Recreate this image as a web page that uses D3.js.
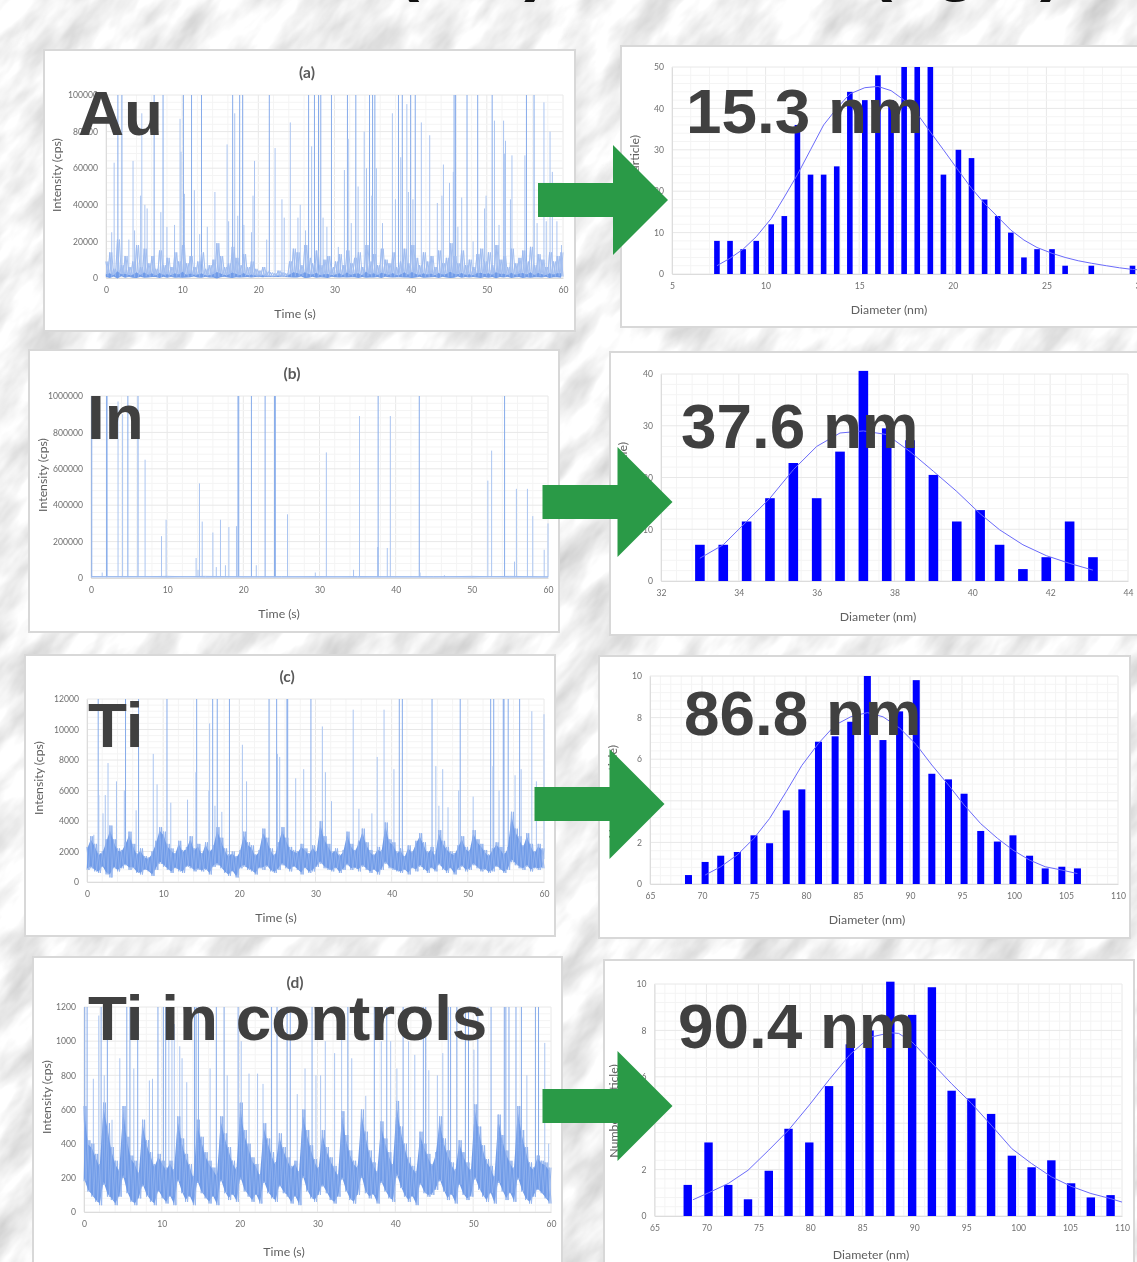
<!DOCTYPE html>
<html>
<head>
<meta charset="utf-8">
<script src="https://d3js.org/d3.v7.min.js"></script>
<style>
  html, body { margin: 0; padding: 0; background: #eee; overflow: hidden; }
  svg { display: block; }
  text { font-family: Lato, "Open Sans", sans-serif; }
  .big { font-family: "Liberation Sans", Arial, sans-serif; font-weight: 700; font-size: 63.8px; fill: #404040; }
  .tick text { fill: #707070; font-size: 8.6px; }
  .axt { fill: #606060; font-size: 12.3px; }
  .ttl { fill: #5a5a5a; font-size: 15.5px; font-weight: 700; }
</style>
</head>
<body>
<div class="svg"></div>
<script>
const timeTicks = [0, 10, 20, 30, 40, 50, 60];

// (a) Au trace, hand
const auTicks = [0, 20000, 40000, 60000, 80000, 100000];
const auTrace = [
  9000,900,14000,700,5000,1000,21000,800,7000,1200,12000,700,6000,900,9000,600,18000,800,6000,1000,
  16000,900,8000,700,12000,1100,5000,800,15000,700,7000,1000,11000,600,6000,900,14000,800,9000,700,
  18000,1000,8000,700,12000,900,6000,1100,9000,700,14000,800,5000,900,7000,600,10000,800,19000,700,
  12000,900,6000,1000,8000,700,17000,800,11000,900,7000,600,13000,1000,6000,800,9000,700,5000,800,
  4000,900,6000,700,3500,800,3000,700,2500,800,4000,700,3000,900,2500,600,9000,800,16000,1000,
  14000,900,7000,1100,18000,800,11000,700,8000,1000,15000,900,7000,700,10000,800,12000,600,6000,1000,
  9000,800,13000,900,7000,700,15000,1000,8000,800,11000,900,14000,700,6000,800,18000,1000,9000,700,
  13000,900,7000,800,16000,700,10000,1100,8000,800,14000,900,6000,700,9000,800,16000,1000,8000,700,
  18000,900,11000,800,7000,1000,14000,800,9000,700,12000,900,6000,800,15000,700,8000,1000,11000,800,
  19000,900,12000,700,8000,1100,15000,800,7000,900,10000,700,6000,800,13000,900,16000,700,9000,1000,
  14000,800,7000,900,18000,700,10000,1000,12000,800,6000,900,16000,700,8000,800,11000,1000,15000,700,
  9000,800,17000,900,7000,700,13000,1000,10000,800,6000,900,14000,700,9000,800,12000,1000,14000,800
];
const auSpikes = [
  [1.56,100000],[2.09,100000],[6.32,100000],[7.49,100000],[10.16,100000],[11.23,100000],[12.54,100000],[16.63,100000],
  [17.55,100000],[17.94,100000],[21.44,100000],[26.6,100000],[27.37,100000],[27.9,100000],[28.2,100000],[29.6,100000],
  [31.7,100000],[32.8,100000],[34.6,100000],[35,100000],[35.3,100000],[38.4,100000],[38.9,100000],[40,100000],
  [40.6,100000],[45.7,100000],[45.9,100000],[47.4,100000],[48.8,100000],[50.7,100000],[55.2,100000],[56.2,100000],
  [1.07,63000],[0.75,25000],[3,21000],[3.55,64000],[3.75,26000],[4.7,90000],[4.55,45000],[5.1,40000],[5.4,38000],
  [7.2,36000],[8,28000],[9,29000],[9.72,87000],[9.85,69000],[10.3,46000],[11.6,48000],[12.3,24000],[13.3,28000],
  [14.3,47000],[15.9,73000],[16.1,31000],[16.9,90000],[17.3,34000],[18.1,29000],[19.1,25000],[19.3,45000],[19.5,64000],
  [21.1,21000],[22.2,71000],[23.1,43000],[23.4,33000],[24.2,85000],[25.2,33000],[25.5,40000],[26.2,26000],[27,72000],
  [28.5,33000],[29,28000],[30.5,17000],[31.3,59000],[31.8,76000],[32.2,30000],[33.1,50000],[33.9,80000],[34.2,60000],
  [34.9,45000],[35.5,60000],[36.3,30000],[37.6,90000],[38,43000],[38.7,66000],[39.5,95000],[39.7,47000],[40.3,43000],
  [41.4,85000],[42.5,78000],[43.5,41000],[44.3,62000],[44.1,45000],[45.1,52000],[45.6,58000],[46.7,44000],[46.2,28000],
  [48.2,20000],[49.7,38000],[49.9,45000],[51,86000],[51.6,29000],[52.2,86000],[52.3,68000],[52.45,75000],[53.3,67000],
  [53.1,43000],[55,67000],[56.6,30000],[57.5,96000],[57.8,31000],[58.3,80000],[58.6,58000],[59.2,31000],[59.8,18000]
];

// (b) In trace
const inTicks = [0, 200000, 400000, 600000, 800000, 1000000];
const inTrace = [6000, 8000, 5000, 9000, 6000, 7000, 5000, 8000, 6000, 7000, 5000, 9000, 6000];
const inSpikes = [
  [0.1,1000000],[1.47,30000],[2.05,1000000],[2.1,1000000],[3.55,970000],[4.15,900000],[4.84,1000000],[6.17,1000000],
  [7.1,650000],[9.26,230000],[9.86,320000],[13.8,110000],[14.05,45000],[14.24,520000],[14.6,310000],[16,250000],
  [16.45,60000],[17,320000],[17.65,70000],[18.1,280000],[19.1,285000],[19.3,1000000],[19.4,1000000],[21.06,1000000],
  [21.7,70000],[22.86,1000000],[24.1,1000000],[24.2,1000000],[25.8,350000],[29.45,30000],[30.9,690000],[34.47,45000],
  [35.25,890000],[37.65,170000],[37.7,1000000],[38.9,165000],[39.3,890000],[43.1,1000000],[43.2,30000],[46.4,15000],
  [52.1,535000],[52.6,700000],[54.3,1000000],[55.6,90000],[55.85,490000],[57.3,490000],[58,340000],[59.5,155000],[60,300000]
];

// (c) Ti trace
const tiTicks = [0, 2000, 4000, 6000, 8000, 10000, 12000];
const tiTrace = [
  2300,800,3000,900,2500,700,1900,600,2000,1000,2800,500,3700,300,2800,900,2200,700,2100,900,
  2600,1100,3300,800,2500,900,1900,600,2200,500,1700,800,1600,700,2000,400,2700,800,3600,1200,
  3300,1000,2500,800,2200,600,1900,900,2700,700,2100,600,2300,1000,3000,900,2200,700,2500,800,
  1900,700,2600,800,2100,500,2400,1000,3600,1100,2900,900,2200,600,1800,400,2000,700,1700,300,
  2100,900,3300,1000,2600,800,2400,700,1800,500,2100,900,3500,800,2900,1000,2200,700,1800,600,
  2600,800,3600,1100,2900,900,2300,700,2100,1000,2000,800,2500,500,2200,900,1900,600,2400,700,
  2000,1000,4000,1200,3000,900,2500,800,2000,700,2200,900,1800,600,2100,800,3300,1100,2500,800,
  2100,900,2700,700,3500,1000,2600,800,2100,600,1800,800,2300,500,2100,800,3900,1200,2800,900,
  2600,800,2000,700,2200,600,1700,800,2400,500,2000,900,2700,700,3200,1000,2600,800,2000,600,
  2300,900,1800,700,3400,1100,2700,800,2300,600,2000,900,1900,500,2400,800,3000,1000,2300,700,
  2100,800,3400,1100,2800,900,2500,700,2100,800,1800,600,2200,700,2600,1000,2300,800,1900,600,
  2300,800,4600,1300,3500,1100,3000,900,2400,800,3200,1000,2500,700,2000,900,2500,800,2200,900
];
const tiSpikes = [
  [1.47,12000],[5.06,12000],[6.77,12000],[10.5,12000],[14.4,12000],[16.5,12000],[17.1,12000],[18.7,12000],[23.9,12000],
  [24.9,12000],[26.25,12000],[26.35,12000],[29.4,12000],[41,12000],[41.4,12000],[45.3,12000],[49,12000],[53,12000],[53.4,12000],
  [54.65,12000],[54.75,12000],[55.3,12000],[56.8,12000],[0.9,3100],[1.55,5700],[2.1,4500],[2.4,5700],[2.76,7800],[3.87,6600],
  [4.9,6000],[6.45,4700],[8.7,8400],[9.2,6400],[11,5200],[13.2,5400],[14.3,7200],[16.1,10400],[16,6000],[16.8,5000],
  [17.7,4600],[20.4,9000],[20.95,6600],[25,8400],[25.3,8200],[27.4,6800],[28.45,7400],[30.9,10200],[31.3,7200],[32.1,5300],
  [34.95,11300],[35.7,4800],[37.4,4500],[38.1,8200],[39,11300],[40.3,7400],[45.8,7600],[46.7,7400],[46.2,5000],[47.4,4900],
  [48.8,6000],[50.7,5600],[53.3,7600],[54.1,6000],[56.2,7000],[57,7400],[58.4,11200],[59,6600],[60,11000]
];

// (d) Ti in controls trace
const ctlTicks = [0, 200, 400, 600, 800, 1000, 1200];
const ctlTrace = [
  620,180,420,120,400,90,340,60,280,40,640,160,520,90,380,70,300,40,250,90,
  620,200,440,110,330,60,300,40,230,80,540,150,420,90,350,60,280,40,340,120,
  300,80,260,50,300,90,250,40,560,180,430,110,340,60,280,90,210,40,540,170,
  440,110,350,80,300,50,260,90,220,40,560,180,460,110,380,70,300,100,260,60,
  640,190,480,120,400,90,320,60,280,100,220,50,520,170,430,110,350,80,290,60,
  460,150,380,110,320,90,270,50,300,90,240,40,600,200,480,120,390,80,310,60,
  260,100,480,150,380,110,320,70,270,50,220,90,590,190,450,120,360,70,300,50,
  270,100,600,200,470,110,360,80,290,100,240,50,530,170,430,120,350,80,280,60,
  650,210,500,140,400,90,320,60,270,90,240,40,470,160,400,110,340,90,280,100,
  350,130,560,180,430,120,360,70,290,100,250,50,420,160,350,100,290,70,250,90,
  630,190,500,130,390,90,310,60,270,110,210,50,570,170,450,120,360,70,300,110,
  260,60,620,190,480,120,380,70,290,50,260,90,330,130,300,110,290,80,260,50
];
const ctlSpikes = [
  [0.1,1200],[0.4,1200],[1.2,780],[1.9,1150],[2.2,1200],[2.6,800],[3,1200],[3.6,540],[4.6,900],[5.5,1200],[5.9,1200],
  [6.4,840],[6.9,1200],[8.4,770],[8.8,780],[9.5,1200],[10.2,1200],[10.5,1200],[10.9,1100],[11.3,1150],[11.6,1100],[12.3,970],
  [12.6,900],[13.2,760],[14.2,1200],[14.4,1200],[14.7,1200],[16.2,840],[17,1200],[18,1200],[18.4,800],[19.8,1200],[20.2,1000],
  [21.2,810],[22.3,810],[23,750],[24.1,1200],[24.8,1200],[26.1,1200],[26.5,1200],[27.4,690],[28.4,840],[29.3,1200],[29.8,800],
  [30.4,800],[31,1000],[32.2,930],[33.1,1100],[33.9,1200],[34.4,900],[36.2,680],[37.3,1200],[38.2,1000],[38.9,1200],[39.4,1000],
  [40.2,840],[41,1200],[41.7,1000],[42.5,920],[43.6,1200],[43.9,1200],[44.3,830],[45.4,800],[46.1,930],[46.8,1200],[47.1,1200],
  [47.9,1200],[49,1200],[49.4,1200],[50.1,950],[50.6,1200],[52.3,1200],[54,1200],[54.2,1200],[54.6,1200],[55.5,1200],[56.2,1200],
  [56.9,800],[58,1200],[58.4,1200],[59.2,990],[59.7,400]
];

// size distributions
const auDiam = [7.4,8.1,8.8,9.5,10.3,11,11.7,12.4,13.1,13.8,14.5,15.3,16,16.7,17.4,18.1,18.8,19.5,20.3,21,21.7,22.4,23.1,23.8,24.5,25.3,26,27.4,29.6];
const auCount = [8,8,6,8,12,14,36,24,24,26,44,42,48,42,50,50,50,24,30,28,18,14,10,4,6,6,2,2,2];
const auFitX = [7.4,8.1,8.8,9.5,10.3,11,11.7,12.4,13.1,13.8,14.5,15.3,16,16.7,17.4,18.1,18.8,19.5,20.3,21,21.7,22.4,23.1,23.8,24.5,25.3,26,26.7,27.4,28.2,28.9,29.6,30];
const auFitY = [2,3.8,6,9,13.4,18.6,24,30,36,40,43.5,45,45.3,44.3,42,38.7,34.3,30,25,20.7,17,13.8,10.6,8.2,6.4,5,4,3.2,2.6,2,1.5,1.1,1];
const auSizeTicks = [5,10,15,20,25,30];
const auCountTicks = [0,10,20,30,40,50];

const inDiam = [33,33.6,34.2,34.8,35.4,36,36.6,37.2,37.8,38.4,39,39.6,40.2,40.7,41.3,41.9,42.5,43.1];
const inCount = [7,7,11.5,16,22.8,16,25,40.6,29.5,27.2,20.5,11.5,13.7,7,2.3,4.6,11.5,4.6];
const inFitY = [4.4,7,11.5,16,21.5,26,28.6,29,28.3,25,21.2,17.3,13,9.9,7,4.9,3.4,2.1];
const inSizeTicks = [32,34,36,38,40,42,44];
const inCountTicks = [0,10,20,30,40];

const tiDiam = [68.7,70.3,71.8,73.4,75,76.5,78.1,79.6,81.2,82.8,84.3,85.9,87.4,89,90.6,92.1,93.7,95.2,96.8,98.4,99.9,101.5,103,104.6,106.1];
const tiCount = [0.43,1.06,1.36,1.54,2.34,1.96,3.54,4.55,6.84,7.1,7.8,10,6.92,8.3,9.8,5.3,5.03,4.34,2.55,2.04,2.34,1.36,0.75,0.83,0.75];
const tiFitX = [70.3,71.8,73.4,75,76.5,78.1,79.6,81.2,82.8,84.3,85.9,87.4,89,90.6,92.1,93.7,95.2,96.8,98.4,99.9,101.5,103,104.6,106.1];
const tiFitY = [0.43,0.83,1.4,2.2,3.15,4.44,5.7,6.76,7.64,8.04,8.24,8.04,7.5,6.7,5.72,4.76,3.8,2.9,2.2,1.63,1.15,0.83,0.67,0.5];
const tiSizeTicks = [65,70,75,80,85,90,95,100,105,110];
const tiCountTicks = [0,2,4,6,8,10];

const ctlDiam = [68.2,70.2,72.1,74,76,77.9,79.9,81.8,83.8,85.7,87.7,89.8,91.7,93.6,95.5,97.4,99.4,101.3,103.2,105.1,107,108.9];
const ctlCount = [1.34,3.17,1.34,0.72,1.95,3.76,3.17,5.6,7.4,8,10.1,8.67,9.86,5.4,5.07,4.4,2.6,2.1,2.4,1.41,0.8,0.9];
const ctlFitX = [68.7,70.2,72.1,74,76,77.9,79.9,81.8,83.8,85.7,87.7,88.5,89.8,91.7,93.6,95.5,97.4,99.4,101.3,103.2,105.1,107,108.9,110];
const ctlFitY = [0.7,1,1.4,1.97,2.84,3.7,4.78,5.87,6.95,7.7,7.9,7.87,7.5,6.6,5.7,4.86,3.92,2.9,2.26,1.69,1.28,0.97,0.75,0.6];
const ctlSizeTicks = [65,70,75,80,85,90,95,100,105,110];
const ctlCountTicks = [0,2,4,6,8,10];

const width = 1137, height = 1262;
const svg = d3.select(".svg").append("svg").attr("width", width).attr("height", height);

const defs = svg.append("defs");
const marble = defs.append("filter").attr("id", "marble")
  .attr("x", 0).attr("y", 0).attr("width", "100%").attr("height", "100%")
  .attr("color-interpolation-filters", "sRGB");
marble.append("feTurbulence").attr("type", "fractalNoise").attr("baseFrequency", "0.014 0.035")
  .attr("numOctaves", 4).attr("seed", 11);
marble.append("feColorMatrix").attr("values", "0.34 0 0 0 0.78  0.34 0 0 0 0.78  0.34 0 0 0 0.78  0 0 0 0 1");
defs.append("filter").attr("id", "soft").attr("x", "-2%").attr("y", "-2%").attr("width", "104%").attr("height", "104%")
  .append("feGaussianBlur").attr("stdDeviation", 0.55);

svg.append("rect").attr("x", -500).attr("y", -500).attr("width", 2200).attr("height", 2300)
  .attr("transform", `rotate(-50 ${width / 2} ${height / 2})`).attr("filter", "url(#marble)");

// cropped slide heading, only the descenders are left in the frame
const heading = svg.append("g").attr("fill", "#111");
[["(nm)", 396], ["(ng/L)", 869]].forEach(([s, x]) => {
  heading.append("text").attr("x", x).attr("y", -13).attr("font-size", 70).attr("font-weight", 700)
    .style("font-family", "'Liberation Sans', Arial, sans-serif").text(s);
});

const charts = svg.append("g").attr("filter", "url(#soft)");

function card(box) {
  charts.append("rect").attr("x", box.x0).attr("y", box.y0)
    .attr("width", box.x1 - box.x0).attr("height", box.y1 - box.y0)
    .attr("fill", "#fff").attr("stroke", "#d8d8d8").attr("stroke-width", 2);
}

function grid(g, x, y, xStep, yStep, xMinor, yMinor) {
  const [x0, x1] = x.range(), [y0, y1] = y.range();
  const [dx0, dx1] = x.domain(), [dy0, dy1] = y.domain();
  for (let v = dx0; v <= dx1 + 1e-6; v += xMinor) {
    const major = Math.abs(v / xStep - Math.round(v / xStep)) < 1e-6;
    g.append("line").attr("x1", x(v)).attr("x2", x(v)).attr("y1", y0).attr("y2", y1)
      .attr("stroke", major ? "#e8e8e8" : "#f4f4f4").attr("stroke-width", 1);
  }
  for (let v = dy0; v <= dy1 + 1e-6; v += yMinor) {
    const major = Math.abs(v / yStep - Math.round(v / yStep)) < 1e-6;
    g.append("line").attr("x1", x0).attr("x2", x1).attr("y1", y(v)).attr("y2", y(v))
      .attr("stroke", major ? "#e8e8e8" : "#f4f4f4").attr("stroke-width", 1);
  }
}

function axes(g, x, y, xTicks, yTicks, pad) {
  const y0 = y.range()[0];
  g.append("g").attr("transform", `translate(0,${y0})`)
    .call(d3.axisBottom(x).tickValues(xTicks).tickSize(0).tickPadding(pad).tickFormat(d3.format("d")))
    .call(a => a.select(".domain").attr("stroke", "#dcdcdc"));
  g.append("g").attr("transform", `translate(${x.range()[0]},0)`)
    .call(d3.axisLeft(y).tickValues(yTicks).tickSize(0).tickPadding(8).tickFormat(d3.format("d")))
    .call(a => a.select(".domain").attr("stroke", "#dcdcdc"));
}

function label(g, s, x, y, cls, rotate, anchor) {
  g.append("text").attr("class", cls)
    .attr("text-anchor", anchor || "middle")
    .attr("dominant-baseline", "middle")
    .attr("transform", `translate(${x},${y})` + (rotate ? " rotate(-90)" : ""))
    .text(s);
}

function traceChart(p) {
  card(p.box);
  const g = charts.append("g");
  const x = d3.scaleLinear().domain([0, 60]).range([p.left, p.right]);
  const y = d3.scaleLinear().domain([0, p.ticks[p.ticks.length - 1]]).range([p.bottom, p.top]);
  grid(g, x, y, 10, p.ticks[1], 2, p.ticks[1] / 5);
  axes(g, x, y, timeTicks, p.ticks, 9);

  const n = p.trace.length;
  const tAt = i => i * 60 / (n - 1);
  const line = d3.line().x((d, i) => x(tAt(i))).y(d => y(d));

  g.append("g").selectAll("line").data(p.spikes).join("line")
    .attr("x1", d => x(d[0])).attr("x2", d => x(d[0]))
    .attr("y1", y(p.foot)).attr("y2", d => y(d[1]))
    .attr("stroke", d => d[1] >= p.ticks[p.ticks.length - 1] ? "#86abea" : "#abc5f1")
    .attr("stroke-width", 1);

  // the reading alternates crest and trough; same readings in opposite phase fill the gaps of the dense band
  const swapped = p.trace.map((d, i) => p.trace[Math.min(i ^ 1, n - 1)]);
  g.append("path").datum(swapped).attr("d", line).attr("fill", "none")
    .attr("stroke", p.fringe).attr("stroke-width", p.traceWidth);
  g.append("path").datum(p.trace).attr("d", line).attr("fill", "none")
    .attr("stroke", p.fringe).attr("stroke-width", p.traceWidth);

  if (p.core) {
    const pairs = d3.pairs(p.trace).filter((d, i) => i % 2 === 0);
    const area = d3.area()
      .x((d, i) => x(tAt(i * 2)))
      .y0(d => y(d[1] + (d[0] - d[1]) * p.core[0]))
      .y1(d => y(d[1] + (d[0] - d[1]) * p.core[1]));
    g.append("path").datum(pairs).attr("d", area).attr("fill", "#6f9be8");
    // thin pale hatch so the band is not a flat fill
    g.append("path").datum(p.trace).attr("d", line).attr("fill", "none")
      .attr("stroke", "#9dbaf0").attr("stroke-width", 0.6);
  }

  label(g, p.title, p.titleX, p.titleY + 1.5, "ttl");
  label(g, "Time (s)", p.timeX, p.timeY, "axt");
  label(g, "Intensity (cps)", p.intX, p.intY, "axt", true);
}

function histChart(p) {
  card(p.box);
  const g = charts.append("g");
  const x = d3.scaleLinear().domain(p.xDomain).range([p.left, p.right]);
  const y = d3.scaleLinear().domain([0, p.countTicks[p.countTicks.length - 1]]).range([p.bottom, p.top]);
  grid(g, x, y, p.xStep, p.countTicks[1], p.xStep / 5, p.countTicks[1] / 5);
  axes(g, x, y, p.sizeTicks, p.countTicks, 9);

  g.append("g").selectAll("rect").data(p.diam).join("rect")
    .attr("x", d => x(d) - p.barW / 2).attr("width", p.barW)
    .attr("y", (d, i) => y(p.count[i])).attr("height", (d, i) => y(0) - y(p.count[i]))
    .attr("fill", "#0000ff");
  const fit = d3.line().x(d => x(d[0])).y(d => y(d[1]));
  g.append("path").datum(p.fitX.map((v, i) => [v, p.fitY[i]])).attr("d", fit)
    .attr("fill", "none").attr("stroke", "#6a6afa").attr("stroke-width", 1);

  label(g, "Diameter (nm)", p.diaX, p.diaY, "axt");
  label(g, p.yTitle, p.numX, p.numY, "axt", true, p.numAnchor);
}

traceChart({ box: { x0: 44, y0: 50, x1: 575, y1: 331 }, left: 106, right: 563, top: 95, bottom: 278,
  ticks: auTicks, trace: auTrace, spikes: auSpikes, foot: 1000, traceWidth: 1, fringe: "#a3bff0", core: [-0.05, 0.14],
  title: "(a)", titleX: 307, titleY: 73, timeX: 295, timeY: 315, intX: 58, intY: 175 });
traceChart({ box: { x0: 29, y0: 350, x1: 559, y1: 632 }, left: 91, right: 548, top: 396, bottom: 578,
  ticks: inTicks, trace: inTrace, spikes: inSpikes, foot: 5000, traceWidth: 1, fringe: "#9dbbef",
  title: "(b)", titleX: 292, titleY: 374, timeX: 279, timeY: 615, intX: 44, intY: 475 });
traceChart({ box: { x0: 25, y0: 655, x1: 555, y1: 936 }, left: 87, right: 544, top: 699, bottom: 882,
  ticks: tiTicks, trace: tiTrace, spikes: tiSpikes, foot: 1500, traceWidth: 1, fringe: "#93b4ee", core: [0.06, 0.9],
  title: "(c)", titleX: 287, titleY: 677, timeX: 276, timeY: 919, intX: 40, intY: 778 });
traceChart({ box: { x0: 33, y0: 957, x1: 562, y1: 1290 }, left: 84, right: 551, top: 1007, bottom: 1212,
  ticks: ctlTicks, trace: ctlTrace, spikes: ctlSpikes, foot: 200, traceWidth: 1, fringe: "#93b4ee", core: [0.04, 0.92],
  title: "(d)", titleX: 295, titleY: 983, timeX: 284, timeY: 1253, intX: 48, intY: 1097 });

histChart({ box: { x0: 621, y0: 46, x1: 1160, y1: 327 }, left: 672, right: 1140, top: 67, bottom: 274,
  xDomain: [5, 30], xStep: 5, sizeTicks: auSizeTicks, countTicks: auCountTicks, barW: 5.6,
  diam: auDiam, count: auCount, fitX: auFitX, fitY: auFitY, yTitle: "Number (particle)",
  diaX: 889, diaY: 311, numX: 636, numY: 135, numAnchor: "end" });
histChart({ box: { x0: 610, y0: 352, x1: 1160, y1: 635 }, left: 661, right: 1128, top: 374, bottom: 581,
  xDomain: [32, 44], xStep: 2, sizeTicks: inSizeTicks, countTicks: inCountTicks, barW: 9.6,
  diam: inDiam, count: inCount, fitX: inDiam, fitY: inFitY, yTitle: "Number (particle)",
  diaX: 878, diaY: 618, numX: 624, numY: 442, numAnchor: "end" });
histChart({ box: { x0: 599, y0: 656, x1: 1130, y1: 938 }, left: 650, right: 1118, top: 676, bottom: 884,
  xDomain: [65, 110], xStep: 5, sizeTicks: tiSizeTicks, countTicks: tiCountTicks, barW: 7,
  diam: tiDiam, count: tiCount, fitX: tiFitX, fitY: tiFitY, yTitle: "Number (particle)",
  diaX: 867, diaY: 921, numX: 614, numY: 745, numAnchor: "end" });
histChart({ box: { x0: 604, y0: 960, x1: 1134, y1: 1290 }, left: 654.5, right: 1122, top: 984, bottom: 1216,
  xDomain: [65, 110], xStep: 5, sizeTicks: ctlSizeTicks, countTicks: ctlCountTicks, barW: 8.4,
  diam: ctlDiam, count: ctlCount, fitX: ctlFitX, fitY: ctlFitY, yTitle: "Number (particle)",
  diaX: 871, diaY: 1256, numX: 615, numY: 1111 });

// arrows and slide captions sit on top of the charts
const arrowShape = [[0, -17], [75, -17], [75, -55], [130, 0], [75, 55], [75, 17], [0, 17]];
const arrowLine = d3.line().curve(d3.curveLinearClosed);
[[538, 200], [542.5, 502], [534.5, 804], [542.5, 1106]].forEach(([ax, ay]) => {
  svg.append("path").attr("d", arrowLine(arrowShape))
    .attr("transform", `translate(${ax},${ay})`).attr("fill", "#2a9a47");
});

[["Au", 78, 135], ["15.3 nm", 686, 133], ["In", 87, 439], ["37.6 nm", 681, 448],
 ["Ti", 88, 747], ["86.8 nm", 684, 735], ["Ti in controls", 88, 1040], ["90.4 nm", 678, 1048]]
  .forEach(([s, x, y]) => {
    svg.append("text").attr("class", "big").attr("x", x).attr("y", y).text(s);
  });
</script>
</body>
</html>
